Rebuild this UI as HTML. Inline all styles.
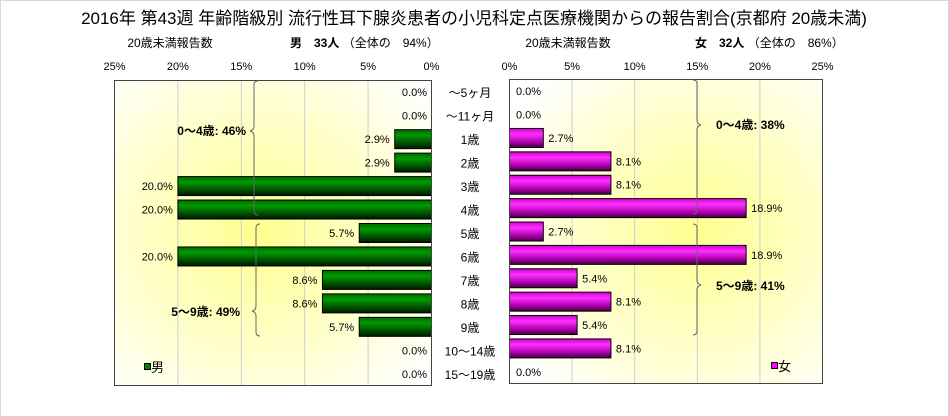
<!DOCTYPE html>
<html><head><meta charset="utf-8"><style>
body{margin:0;background:#fff;}
svg{display:block;font-family:"Liberation Sans","Noto Sans CJK JP",sans-serif;}
</style></head><body>
<svg id="chart" width="949" height="417" viewBox="0 0 949 417">
<defs>
<radialGradient id="bgL" cx="0.45" cy="0.5" r="0.7"><stop offset="0" stop-color="#ffff90"/><stop offset="0.6" stop-color="#ffffd0"/><stop offset="1" stop-color="#ffffff"/></radialGradient>
<radialGradient id="bgR" cx="0.6" cy="0.5" r="0.7"><stop offset="0" stop-color="#ffff90"/><stop offset="0.6" stop-color="#ffffd0"/><stop offset="1" stop-color="#ffffff"/></radialGradient>
<linearGradient id="gM" x1="0" y1="0" x2="0" y2="1"><stop offset="0" stop-color="#006800"/><stop offset="0.3" stop-color="#009a00"/><stop offset="0.7" stop-color="#005000"/><stop offset="1" stop-color="#001800"/></linearGradient>
<linearGradient id="gF" x1="0" y1="0" x2="0" y2="1"><stop offset="0" stop-color="#d000d0"/><stop offset="0.3" stop-color="#ff30ff"/><stop offset="0.7" stop-color="#b000b0"/><stop offset="1" stop-color="#400040"/></linearGradient>
</defs>
<rect x="0.5" y="0.5" width="948" height="416" fill="#fff" stroke="#d8d8d8"/>
<text x="474" y="24" font-size="17" text-anchor="middle">2016年 第43週 年齢階級別 流行性耳下腺炎患者の小児科定点医療機関からの報告割合(京都府 20歳未満)</text>
<text x="170" y="47" font-size="12" text-anchor="middle">20歳未満報告数</text>
<text x="290" y="47" font-size="12"><tspan font-weight="bold">男　33人</tspan> （全体の　94%）</text>
<text x="568" y="47" font-size="12" text-anchor="middle">20歳未満報告数</text>
<text x="695" y="47" font-size="12"><tspan font-weight="bold">女　32人</tspan> （全体の　86%）</text>
<rect x="114.5" y="80.5" width="317" height="305" fill="url(#bgL)"/>
<rect x="509.5" y="79.5" width="313" height="304" fill="url(#bgR)"/>
<g id="layer"></g>
<rect x="114.5" y="80.5" width="317" height="305" fill="none" stroke="#444"/>
<rect x="509.5" y="79.5" width="313" height="304" fill="none" stroke="#444"/>
<path d="M258,81 q-4,0 -4,4 v41 q0,4 -4,5 q4,1 4,5 v75 q0,4 4,4" fill="none" stroke="#666"/>
<text x="246" y="135" font-size="12" font-weight="bold" text-anchor="end">0～4歳: 46%</text>
<path d="M260,224 q-4,0 -4,4 v78 q0,4 -4,5 q4,1 4,5 v16 q0,4 4,4" fill="none" stroke="#666"/>
<text x="240" y="316" font-size="12" font-weight="bold" text-anchor="end">5～9歳: 49%</text>
<path d="M693,80 q4,0 4,4 v36 q0,4 4,5 q-4,1 -4,5 v80 q0,4 -4,4" fill="none" stroke="#666"/>
<text x="716" y="129" font-size="12" font-weight="bold">0～4歳: 38%</text>
<path d="M693,224 q4,0 4,4 v52 q0,4 4,5 q-4,1 -4,5 v41 q0,4 -4,4" fill="none" stroke="#666"/>
<text x="716" y="290" font-size="12" font-weight="bold">5～9歳: 41%</text>
<rect x="144.5" y="363.5" width="6" height="6" fill="#008000" stroke="#000"/>
<text x="151" y="372" font-size="13">男</text>
<rect x="771.5" y="362.5" width="6" height="6" fill="#ff00ff" stroke="#000"/>
<text x="778" y="371" font-size="13">女</text>
</svg>
<script>
const categories = ["～5ヶ月","～11ヶ月","1歳","2歳","3歳","4歳","5歳","6歳","7歳","8歳","9歳","10～14歳","15～19歳"];
const maleValues = [0,0,2.9,2.9,20.0,20.0,5.7,20.0,8.6,8.6,5.7,0,0];
const femaleValues = [0,0,2.7,8.1,8.1,18.9,2.7,18.9,5.4,8.1,5.4,8.1,0];
const ticks = [0,5,10,15,20,25];
const NS = "http://www.w3.org/2000/svg";
const layer = document.getElementById("layer");
function xL(v){return 431.5 - v*(317/25);}
function xR(v){return 509.5 + v*(313/25);}
function yL(i){return 80.5 + (i+0.5)*(305/13);}
function yR(i){return 79.5 + (i+0.5)*(304/13);}
function mk(tag, attrs){const e=document.createElementNS(NS,tag);for(const k in attrs)e.setAttribute(k,attrs[k]);layer.appendChild(e);return e;}
ticks.forEach(t=>{
  if(t>0&&t<25){
    const g1=mk("line",{x1:xL(t),x2:xL(t),y1:81,y2:385,stroke:"#cfcfcf"});
    
    
    const g2=mk("line",{x1:xR(t),x2:xR(t),y1:80,y2:383,stroke:"#cfcfcf"});
    
    
  }
  const a=mk("text",{x:xL(t),y:70,"font-size":11,"text-anchor":"middle"});a.textContent=t+"%";
  
  
  const b=mk("text",{x:xR(t),y:70,"font-size":11,"text-anchor":"middle"});b.textContent=t+"%";
  
  
});
categories.forEach((c,i)=>{
  const t=mk("text",{x:470,y:yL(i)+5,"font-size":12,"text-anchor":"middle"});t.textContent=c;
  
  
  const mv=maleValues[i], fv=femaleValues[i];
  const bh=19;
  if(mv>0){
    const r=mk("rect",{x:xL(mv),y:yL(i)-bh/2,width:xL(0)-xL(mv),height:bh,fill:"url(#gM)",stroke:"#000"});
    
    
  }
  const ml=mk("text",{x:mv>0?xL(mv)-5:427,y:yL(i)+4,"font-size":11,"text-anchor":"end"});ml.textContent=mv.toFixed(1)+"%";
  
  
  if(fv>0){
    const r=mk("rect",{x:xR(0),y:yR(i)-bh/2,width:xR(fv)-xR(0),height:bh,fill:"url(#gF)",stroke:"#000"});
    
    
  }
  const fl=mk("text",{x:fv>0?xR(fv)+5:516,y:yR(i)+4,"font-size":11});fl.textContent=fv.toFixed(1)+"%";
  
  
});
</script>
</body></html>
